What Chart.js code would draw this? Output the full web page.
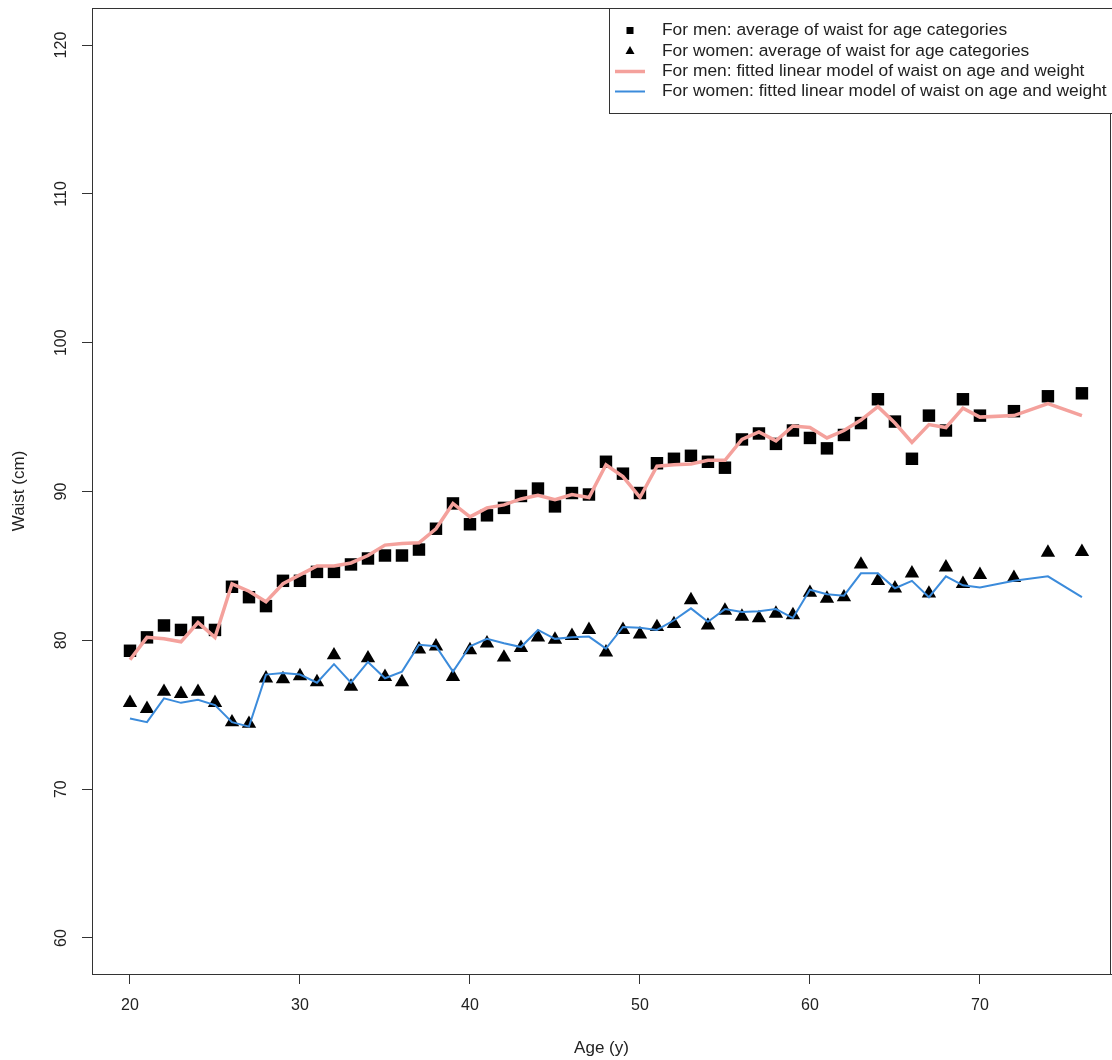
<!DOCTYPE html>
<html>
<head>
<meta charset="utf-8">
<title>Waist by age</title>
<script src="https://cdn.jsdelivr.net/npm/chart.js@4"></script>
<style>
  body { margin: 0; background: #fff; }
  #wrap { width: 1112px; height: 1060px; }
</style>
</head>
<body>
<div id="wrap"><canvas id="waistChart" width="1112" height="1060"></canvas></div>
<script>
// ages (x) - 20..70 then every 2 years
const ages = [20, 21, 22, 23, 24, 25, 26, 27, 28, 29, 30, 31, 32, 33, 34, 35, 36, 37, 38, 39,
  40, 41, 42, 43, 44, 45, 46, 47, 48, 49, 50, 51, 52, 53, 54, 55, 56, 57, 58, 59,
  60, 61, 62, 63, 64, 65, 66, 67, 68, 69, 70, 72, 74, 76];

// men: average waist per age
const menAvg = [79.3, 80.2, 81.0, 80.7, 81.2, 80.7, 83.6, 82.9, 82.3, 84.0,
  84.0, 84.6, 84.6, 85.1, 85.5, 85.7, 85.7, 86.1, 87.5, 89.2,
  87.8, 88.4, 88.9, 89.7, 90.2, 89.0, 89.9, 89.8, 92.0, 91.2,
  89.9, 91.9, 92.2, 92.4, 92.0, 91.6, 93.5, 93.9, 93.2, 94.1,
  93.6, 92.9, 93.8, 94.6, 96.2, 94.7, 92.2, 95.1, 94.1, 96.2,
  95.1, 95.4, 96.4, 96.6];

// men: fitted linear model
const menFit = [78.7, 80.2, 80.1, 79.9, 81.2, 80.2, 83.8, 83.3, 82.6, 83.8,
  84.4, 85.0, 85.0, 85.2, 85.7, 86.4, 86.5, 86.55, 87.5, 89.2,
  88.3, 88.9, 89.1, 89.5, 89.75, 89.45, 89.8, 89.6, 91.8, 91.0,
  89.6, 91.7, 91.8, 91.85, 92.1, 92.1, 93.5, 94.0, 93.4, 94.4,
  94.3, 93.6, 94.1, 94.8, 95.7, 94.6, 93.3, 94.5, 94.3, 95.6,
  95.0, 95.1, 95.9, 95.1];

// women: average waist per age
const womenAvg = [75.8, 75.4, 76.55, 76.4, 76.55, 75.8, 74.5, 74.4, 77.45, 77.4,
  77.6, 77.2, 79.0, 76.9, 78.8, 77.55, 77.2, 79.4, 79.6, 77.55,
  79.35, 79.8, 78.85, 79.5, 80.2, 80.05, 80.3, 80.7, 79.2, 80.7,
  80.4, 80.9, 81.1, 82.7, 81.0, 82.0, 81.6, 81.5, 81.8, 81.7,
  83.2, 82.8, 82.9, 85.1, 84.0, 83.5, 84.5, 83.15, 84.9, 83.8,
  84.4, 84.2, 85.9, 85.95];

// women: fitted linear model
const womenFit = [74.75, 74.5, 76.1, 75.8, 76.0, 75.65, 74.5, 74.2, 77.7, 77.8,
  77.7, 77.15, 78.4, 77.15, 78.55, 77.45, 77.9, 79.7, 79.6, 77.9,
  79.6, 80.1, 79.8, 79.55, 80.7, 80.1, 80.2, 80.25, 79.45, 80.9,
  80.85, 80.7, 81.35, 82.15, 81.25, 82.1, 81.9, 81.95, 82.1, 81.5,
  83.4, 83.1, 83.0, 84.5, 84.5, 83.5, 84.0, 82.9, 84.3, 83.7,
  83.55, 84.0, 84.3, 82.9];

const xTicks = [20, 30, 40, 50, 60, 70];
const yTicks = [60, 70, 80, 90, 100, 110, 120];

const legendLabels = [
  'For men: average of waist for age categories',
  'For women: average of waist for age categories',
  'For men: fitted linear model of waist on age and weight',
  'For women: fitted linear model of waist on age and weight'
];

const FONT = '"Liberation Sans", Arial, sans-serif';
const INK = '#222';
const MEN_COLOR = '#f4a19c';
const WOMEN_COLOR = '#3b8bdb';

function toPoints(ys) {
  return ages.map((a, i) => ({ x: a, y: ys[i] }));
}

// box around plot + rotated y labels + legend (R style)
const rStyle = {
  id: 'rStyle',
  afterDraw(chart) {
    const ctx = chart.ctx;
    const area = chart.chartArea;
    ctx.save();

    ctx.strokeStyle = '#333';
    ctx.lineWidth = 1;
    ctx.strokeRect(area.left + 0.5, area.top + 0.5, area.right - area.left - 1, area.bottom - area.top);

    // y tick labels, vertical like R (las = 0)
    const yScale = chart.scales.y;
    ctx.fillStyle = INK;
    ctx.font = '16px ' + FONT;
    ctx.textAlign = 'center';
    ctx.textBaseline = 'middle';
    yScale.ticks.forEach(t => {
      const py = yScale.getPixelForValue(t.value);
      ctx.save();
      ctx.translate(62, py);
      ctx.rotate(-Math.PI / 2);
      ctx.fillText(String(t.value), 0, 0);
      ctx.restore();
    });

    // legend box, top right
    const lx = 609, ly = area.top;
    ctx.fillStyle = '#fff';
    ctx.fillRect(lx, ly, chart.width - lx + 5, 105);
    ctx.strokeStyle = '#333';
    ctx.strokeRect(lx + 0.5, ly + 0.5, chart.width - lx + 5, 105);

    const rows = [30.5, 51, 71.5, 91.5];
    const ds = chart.data.datasets;
    // squares
    ctx.fillStyle = '#000';
    ctx.fillRect(630 - 3.5, rows[0] - 3.5, 7, 7);
    // triangle
    ctx.beginPath();
    ctx.moveTo(630, rows[1] - 5);
    ctx.lineTo(634.5, rows[1] + 3);
    ctx.lineTo(625.5, rows[1] + 3);
    ctx.closePath();
    ctx.fill();
    // lines
    [ds[0], ds[1]].forEach((d, i) => {
      ctx.strokeStyle = d.borderColor;
      ctx.lineWidth = d.borderWidth;
      ctx.beginPath();
      ctx.moveTo(615, rows[2 + i]);
      ctx.lineTo(645, rows[2 + i]);
      ctx.stroke();
    });

    ctx.fillStyle = INK;
    ctx.font = '17.4px ' + FONT;
    ctx.textAlign = 'left';
    ctx.textBaseline = 'middle';
    legendLabels.forEach((txt, i) => ctx.fillText(txt, 662, rows[i]));

    ctx.restore();
  }
};

new Chart(document.getElementById('waistChart'), {
  type: 'line',
  data: {
    datasets: [
      {
        label: legendLabels[2],
        data: toPoints(menFit),
        borderColor: MEN_COLOR,
        borderWidth: 3.5,
        pointRadius: 0,
        tension: 0,
        fill: false,
        order: 1
      },
      {
        label: legendLabels[3],
        data: toPoints(womenFit),
        borderColor: WOMEN_COLOR,
        borderWidth: 2,
        pointRadius: 0,
        tension: 0,
        fill: false,
        order: 1
      },
      {
        label: legendLabels[0],
        data: toPoints(menAvg),
        showLine: false,
        pointStyle: 'rect',
        pointRadius: 8.8,
        pointBackgroundColor: '#000',
        pointBorderWidth: 0,
        order: 2
      },
      {
        label: legendLabels[1],
        data: toPoints(womenAvg),
        showLine: false,
        pointStyle: 'triangle',
        pointRadius: 8.3,
        pointBackgroundColor: '#000',
        pointBorderWidth: 0,
        order: 2
      }
    ]
  },
  options: {
    responsive: false,
    animation: false,
    layout: { autoPadding: false, padding: { top: 8, right: 1, left: 0, bottom: 0 } },
    plugins: {
      legend: { display: false },
      tooltip: { enabled: false }
    },
    scales: {
      x: {
        type: 'linear',
        min: 17.765,
        max: 77.71,
        afterBuildTicks: s => { s.ticks = xTicks.map(v => ({ value: v })); },
        afterFit: s => { s.height = 86; s.paddingLeft = 0; s.paddingRight = 0; },
        grid: { display: true, drawOnChartArea: false, drawTicks: true, tickLength: 10, color: '#333' },
        border: { display: true, color: '#333' },
        ticks: { color: INK, font: { family: FONT, size: 16 }, padding: 12, maxRotation: 0 },
        title: { display: true, text: 'Age (y)', color: INK, font: { family: FONT, size: 17 }, padding: { top: 0, bottom: 1 } }
      },
      y: {
        type: 'linear',
        min: 57.58,
        max: 122.49,
        afterBuildTicks: s => { s.ticks = yTicks.map(v => ({ value: v })); },
        afterFit: s => { s.width = 92; },
        grid: { display: true, drawOnChartArea: false, drawTicks: true, tickLength: 10, color: '#333' },
        border: { display: true, color: '#333' },
        ticks: { display: false },
        title: { display: true, text: 'Waist (cm)', color: INK, font: { family: FONT, size: 17 }, padding: { top: 9, bottom: 0 } }
      }
    }
  },
  plugins: [rStyle]
});
</script>
</body>
</html>
